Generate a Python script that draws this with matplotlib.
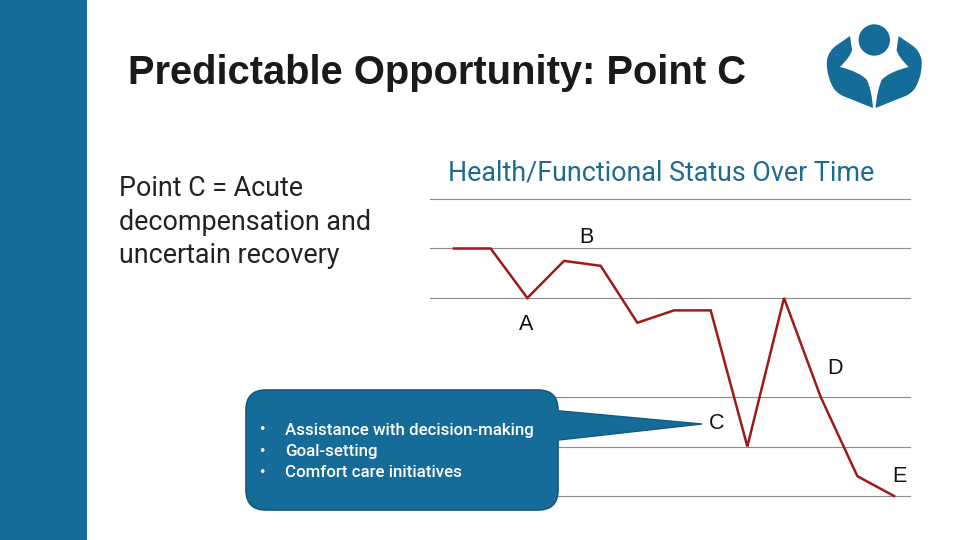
import matplotlib
matplotlib.use('Agg')
from matplotlib import pyplot as plt
from matplotlib.patches import Rectangle, FancyBboxPatch, Polygon, Circle, PathPatch
from matplotlib.path import Path

time_steps = [0, 1, 2, 3, 4, 5, 6, 7, 8, 9, 10, 11, 12]
status = [5.0, 5.0, 4.0, 4.75, 4.65, 3.5, 3.75, 3.75, 1.0, 4.0, 2.0, 0.4, 0.0]
grid_levels = [0, 1, 2, 4, 5, 6]
point_names = ['A', 'B', 'C', 'D', 'E']
point_x = [2.0, 3.64, 7.2, 10.43, 12.18]
point_y = [3.46, 5.22, 1.46, 2.58, 0.4]
bullets = ['Assistance with decision-making', 'Goal-setting', 'Comfort care initiatives']
left_lines = ['Point C = Acute', 'decompensation and', 'uncertain recovery']

BLUE = '#156c99'
W, H = 960, 540

fig = plt.figure(figsize=(9.6, 5.4), dpi=100, facecolor='white')

# slide furniture drawn in pixel coordinates
bg = fig.add_axes([0, 0, 1, 1])
bg.set_xlim(0, W)
bg.set_ylim(H, 0)
bg.axis('off')
bg.add_patch(Rectangle((0, 0), 87, H, color=BLUE, lw=0))

bg.text(128, 73.5, 'Predictable Opportunity: Point C', fontsize=28.7, fontweight='bold',
        family='Liberation Sans', color='#1a1a1a', va='center')
for i, line in enumerate(left_lines):
    bg.text(119, 188.5 + i * 33.5, line, fontsize=19.4, family='Roboto',
            color='#222222', va='center')
bg.text(448, 173, 'Health/Functional Status Over Time', fontsize=19.4, family='Roboto',
        color='#1f6a90', va='center')

# logo
bg.add_patch(Circle((874.3, 40), 15.7, color=BLUE, lw=0))
codes = [Path.MOVETO, Path.LINETO, Path.CURVE3, Path.CURVE3, Path.CURVE3, Path.CURVE3,
         Path.CURVE3, Path.CURVE3, Path.LINETO, Path.CURVE3, Path.CURVE3,
         Path.CURVE3, Path.CURVE3, Path.CURVE3, Path.CURVE3, Path.CLOSEPOLY]
hand = [(850, 36), (852, 50), (851, 56), (840, 67), (860, 72), (867, 80), (872, 92), (873, 108),
        (843, 96), (834, 92), (831, 83), (826, 72), (827, 60), (829, 50), (837, 45), (850, 36)]
bg.add_patch(PathPatch(Path(hand, codes), color=BLUE, lw=0))
bg.add_patch(PathPatch(Path([(2 * 874.3 - x, y) for x, y in hand], codes), color=BLUE, lw=0))

# chart
ax = fig.add_axes([430 / W, 1 - 510 / H, (911 - 430) / W, (510 - 180) / H])
ax.patch.set_alpha(0)
ax.set_xlim(-24 / 36.67, 457 / 36.67)
ax.set_ylim(-14 / 49.5, 316 / 49.5)
for s in ax.spines.values():
    s.set_visible(False)
ax.set_xticks([])
ax.set_yticks(grid_levels)
ax.tick_params(left=False, labelleft=False)
ax.grid(axis='y', color='#8a8a8a', lw=0.8)
ax.set_axisbelow(True)
ax.plot(time_steps, status, color='#a01818', lw=1.8, solid_joinstyle='miter', zorder=3)
for name, x, y in zip(point_names, point_x, point_y):
    ax.text(x - 0.03, y, name, fontsize=15.5, family='Liberation Sans', color='#111111',
            ha='center', va='center', zorder=3)

# callout on top of the chart
top = fig.add_axes([0, 0, 1, 1])
top.set_xlim(0, W)
top.set_ylim(H, 0)
top.axis('off')
top.add_patch(Polygon([(550, 410), (702, 424), (550, 441)], closed=True, fc=BLUE, ec='#115a80', lw=1))
top.add_patch(FancyBboxPatch((266, 410), 272, 80, boxstyle='round,pad=20,rounding_size=20',
                             fc=BLUE, ec='#115a80', lw=1.2))
top.add_patch(Rectangle((545, 411), 14, 29, color=BLUE, lw=0))
for i, b in enumerate(bullets):
    top.text(262, 430 + i * 21.4, '•', fontsize=9, color='white', ha='center', va='center')
    top.text(285, 430 + i * 21.4, b, fontsize=12.2, family='Roboto', fontweight='medium',
             color='white', va='center')

fig.savefig('out.png', dpi=100)
